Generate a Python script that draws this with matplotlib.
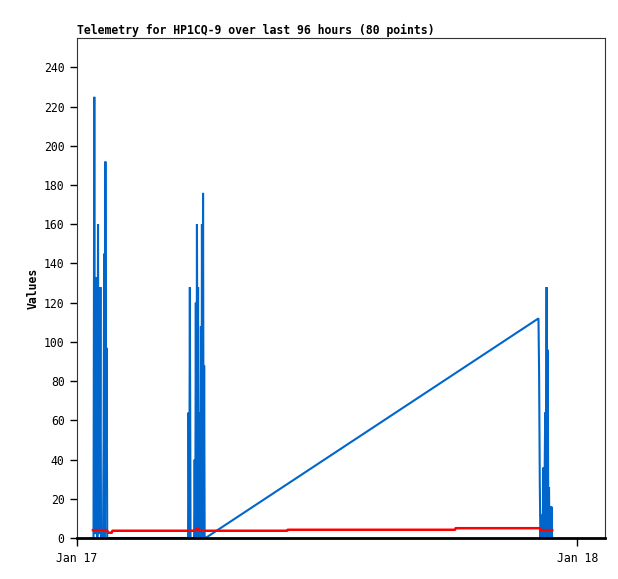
import datetime as dt
import matplotlib
matplotlib.use("Agg")
import matplotlib.pyplot as plt
import matplotlib.dates as mdates

# minutes after midnight on Jan 17 and the values
blue_minutes = [47.5, 49.8, 51.8, 53.3, 55.3, 57.0, 58.5, 60.5, 62.2, 63.9, 65.7, 67.4, 69.1,
                74.9, 76.6, 78.3, 80.1, 81.8, 83.5, 85.2, 87.0,
                319.7, 321.1, 323.1, 324.9, 326.9, 337.0, 338.7, 340.4, 342.1, 343.9, 345.3, 347.0,
                348.5, 350.2, 353.7, 355.4, 356.8, 358.3, 359.7, 361.4, 362.9, 364.6, 366.0, 367.5, 370.1,
                1328.5, 1330.3, 1332.3, 1334.0, 1338.0, 1340.4, 1343.0, 1344.7, 1347.8, 1349.5,
                1351.9, 1353.6, 1355.3, 1356.8, 1358.8, 1360.2, 1362.2, 1364.0, 1366.0, 1367.7]
blue_values = [0, 225, 2, 80, 27, 133, 0, 160, 2, 128, 28, 128, 0,
               0, 48, 145, 0, 192, 48, 97, 0,
               0, 64, 0, 128, 0, 0, 40, 0, 120, 0, 160, 40,
               128, 0, 64, 0, 108, 0, 160, 40, 176, 0, 88, 0, 0,
               112, 84, 28, 0, 12, 0, 36, 0, 64, 0,
               128, 0, 96, 0, 26, 0, 16, 0, 16, 0]

red_minutes = [46, 86, 90, 100, 102, 340, 343, 350, 352, 605, 607, 1088, 1090, 1333, 1335, 1368]
red_values = [4.0, 4.0, 2.7, 2.7, 3.7, 3.7, 4.7, 4.7, 3.7, 3.7, 4.2, 4.2, 5.0, 5.0, 4.0, 4.0]

y_ticks = list(range(0, 241, 20))
day0 = dt.datetime(2024, 1, 17)

blue_t = [day0 + dt.timedelta(minutes=m) for m in blue_minutes]
red_t = [day0 + dt.timedelta(minutes=m) for m in red_minutes]

mono = "DejaVu Sans Mono"
fig = plt.figure(figsize=(6.18, 5.79), dpi=100)
ax = fig.add_axes([77 / 618, 41 / 579, 528 / 618, 500 / 579])

ax.plot(blue_t, blue_values, color="#0066cc", lw=1.5, solid_joinstyle="miter")
ax.plot(red_t, red_values, color="#ff0000", lw=1.8)

ax.set_xlim(day0, day0 + dt.timedelta(minutes=1520))
ax.set_ylim(0, 255)
ax.set_yticks(y_ticks)
ax.set_xticks([day0, day0 + dt.timedelta(days=1)])
ax.xaxis.set_major_formatter(mdates.DateFormatter("%b %d"))

for lbl in ax.get_xticklabels() + ax.get_yticklabels():
    lbl.set_fontfamily(mono)
    lbl.set_fontsize(8.3)
ax.tick_params(axis="y", direction="out", length=5, width=1, pad=4)
ax.tick_params(axis="x", direction="out", length=6, width=1, pad=4)

for side in ["left", "top", "right"]:
    ax.spines[side].set_linewidth(0.8)
    ax.spines[side].set_color("#333333")
ax.spines["bottom"].set_linewidth(2)
ax.spines["bottom"].set_color("black")

ax.set_ylabel("Values", fontfamily=mono, fontsize=8.3, fontweight="bold", labelpad=3)
ax.set_title("Telemetry for HP1CQ-9 over last 96 hours (80 points)",
             fontfamily=mono, fontsize=8.3, fontweight="bold", loc="left", pad=3)

fig.savefig("out.png", dpi=100)
